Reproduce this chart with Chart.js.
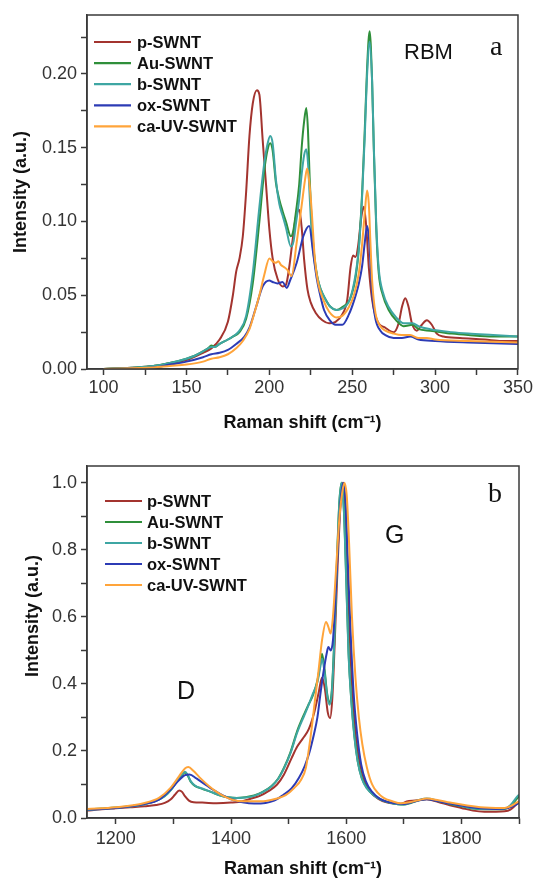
<!DOCTYPE html>
<html>
<head>
<meta charset="utf-8">
<script src="https://cdn.jsdelivr.net/npm/chart.js@4.4.1/dist/chart.umd.min.js"></script>
<style>
html,body{margin:0;padding:0;background:#fff;}
#wrap{position:relative;width:535px;height:880px;overflow:hidden;background:#fff;}
canvas{position:absolute;left:0;}
</style>
</head>
<body>
<div id="wrap">
<canvas id="rbm" width="535" height="440" style="top:0px"></canvas>
<canvas id="gband" width="535" height="440" style="top:440px"></canvas>
</div>
<script>
// ---------- series ----------
const seriesNames = ['p-SWNT', 'Au-SWNT', 'b-SWNT', 'ox-SWNT', 'ca-UV-SWNT'];
const seriesColors = ['#a3342f', '#2f8f3a', '#3ea6a3', '#2c3bb5', '#ffa43a'];

// ---------- panel a : RBM region ----------
const rbmTicksX = [100, 150, 200, 250, 300, 350];
const rbmTicksY = [0.00, 0.05, 0.10, 0.15, 0.20];

const pRbmX = [100,120,130,140,150,160,165,170,175,178,180,182,184,186,188,190,192.5,194,196,198,200,202,205,208,210,212,214,216,218,219.5,221,223,225,228,232,236,240,244,247,249,250.5,252,253.5,255.5,257,258.5,260,262,265,270,275,278,280,282,284,286,289,292,295,298,301,305,315,330,340,350];
const pRbmY = [0,0.001,0.002,0.004,0.006,0.011,0.014,0.020,0.032,0.050,0.066,0.075,0.090,0.120,0.158,0.180,0.189,0.186,0.155,0.125,0.095,0.075,0.061,0.056,0.057,0.069,0.087,0.103,0.108,0.096,0.074,0.054,0.045,0.038,0.033,0.031,0.032,0.037,0.047,0.069,0.077,0.076,0.083,0.103,0.110,0.096,0.069,0.047,0.033,0.028,0.025,0.031,0.042,0.048,0.042,0.031,0.026,0.030,0.033,0.030,0.024,0.022,0.021,0.020,0.019,0.019];

const auRbmX = [100,120,130,140,150,155,160,163,165,167,170,175,178,182,186,190,194,197,199,200.5,202,204,206,208,210,213,214.5,216,218,219.5,221,222.3,223.3,224.3,225.5,227,229,231,234,237,240.5,244,248.5,252,254,256,257.5,259,260.5,262,263,264.5,266,268.5,272,276.5,281,286.5,290,297,310,320,335,350];
const auRbmY = [0,0.001,0.002,0.004,0.007,0.009,0.012,0.014,0.016,0.015,0.017,0.020,0.022,0.025,0.034,0.058,0.100,0.135,0.149,0.153,0.148,0.126,0.115,0.107,0.100,0.090,0.094,0.106,0.125,0.150,0.168,0.177,0.162,0.130,0.100,0.078,0.062,0.054,0.047,0.042,0.040,0.042,0.047,0.062,0.082,0.120,0.160,0.205,0.229,0.195,0.150,0.095,0.065,0.050,0.040,0.033,0.029,0.030,0.027,0.026,0.024,0.023,0.022,0.022];

const bRbmX = auRbmX;
const bRbmY = [0,0.001,0.002,0.004,0.007,0.009,0.012,0.014,0.015,0.015,0.017,0.020,0.022,0.026,0.036,0.065,0.110,0.140,0.153,0.158,0.153,0.128,0.112,0.104,0.096,0.083,0.086,0.098,0.115,0.132,0.145,0.149,0.140,0.118,0.093,0.075,0.062,0.054,0.047,0.042,0.040,0.041,0.047,0.064,0.082,0.118,0.156,0.200,0.222,0.195,0.152,0.098,0.068,0.052,0.042,0.035,0.031,0.031,0.029,0.027,0.025,0.024,0.023,0.022];

const oxRbmX = [100,130,140,150,160,165,170,175,180,185,188,192,196,200,202,205,208,210.5,212.5,216.5,220.5,224,226.5,228.5,230.5,233,236.5,240,244,248,251,254,256,257.5,259,260,261,262,264,267,270,275,280,285,290,300,320,350];
const oxRbmY = [0,0.001,0.003,0.005,0.008,0.010,0.011,0.013,0.017,0.022,0.028,0.042,0.056,0.060,0.059,0.058,0.059,0.055,0.060,0.072,0.090,0.097,0.078,0.062,0.051,0.040,0.033,0.030,0.030,0.037,0.046,0.058,0.070,0.085,0.097,0.090,0.072,0.052,0.034,0.026,0.023,0.021,0.021,0.022,0.020,0.019,0.018,0.017];

const caRbmX = [100,130,140,150,160,165,170,175,180,184,188,191,194,197,200,202,204,205.5,207,209,211,213.4,216.4,219.4,221.5,222.8,224,225.5,227.5,229.5,232.5,236,240.5,244,248,251,254,256,257.5,259,260,261,262,264,267,270,275,280,285,290,295,300,320,350];
const caRbmY = [0,0.001,0.002,0.003,0.005,0.007,0.008,0.010,0.014,0.019,0.027,0.038,0.050,0.064,0.075,0.073,0.072,0.073,0.0705,0.069,0.067,0.063,0.085,0.110,0.128,0.136,0.128,0.108,0.074,0.058,0.047,0.039,0.035,0.036,0.042,0.050,0.065,0.085,0.105,0.121,0.112,0.085,0.060,0.038,0.029,0.026,0.024,0.023,0.023,0.021,0.021,0.020,0.019,0.018];

// ---------- panel b : D and G region ----------
const gTicksX = [1200, 1400, 1600, 1800];
const gTicksY = [0.0, 0.2, 0.4, 0.6, 0.8, 1.0];

const pGX = [1150,1175,1200,1225,1250,1270,1285,1295,1303,1310,1315,1320,1327,1335,1350,1375,1400,1420,1435,1450,1465,1480,1492,1505,1515,1525,1535,1545,1552,1558,1563,1568,1572,1576,1580,1585,1590,1594,1598,1602,1606,1611,1617,1624,1632,1642,1655,1670,1685,1695,1705,1720,1740,1760,1780,1800,1820,1840,1860,1875,1885,1895,1900];
const pGY = [0.022,0.026,0.029,0.032,0.035,0.039,0.045,0.055,0.070,0.082,0.078,0.065,0.052,0.047,0.046,0.044,0.046,0.050,0.058,0.066,0.080,0.100,0.130,0.178,0.213,0.238,0.265,0.318,0.372,0.418,0.385,0.315,0.298,0.360,0.520,0.750,0.930,1.000,0.940,0.760,0.550,0.370,0.240,0.160,0.110,0.078,0.058,0.047,0.043,0.042,0.049,0.052,0.056,0.048,0.038,0.030,0.022,0.019,0.019,0.020,0.025,0.040,0.048];

const auGX = [1150,1175,1200,1225,1250,1270,1285,1297,1307,1315,1320,1325,1330,1338,1350,1365,1380,1395,1410,1425,1440,1455,1470,1482,1492,1503,1515,1527,1535,1542,1550,1555,1558,1562,1567,1571,1575,1579,1584,1588,1592,1596,1600,1604,1609,1614,1620,1627,1636,1647,1660,1675,1690,1700,1712,1725,1740,1760,1780,1800,1820,1840,1860,1875,1885,1895,1900];
const auGY = [0.025,0.028,0.031,0.035,0.042,0.052,0.066,0.087,0.112,0.128,0.136,0.126,0.108,0.095,0.087,0.078,0.068,0.062,0.060,0.062,0.067,0.078,0.095,0.118,0.150,0.195,0.260,0.310,0.340,0.365,0.410,0.460,0.490,0.450,0.370,0.345,0.380,0.520,0.770,0.940,1.000,0.920,0.720,0.500,0.350,0.250,0.170,0.120,0.090,0.070,0.055,0.046,0.041,0.040,0.045,0.052,0.057,0.050,0.042,0.035,0.028,0.026,0.026,0.027,0.035,0.055,0.065];

const bGX = auGX;
const bGY = [0.024,0.027,0.030,0.034,0.041,0.051,0.065,0.086,0.112,0.130,0.138,0.128,0.110,0.096,0.088,0.078,0.068,0.062,0.060,0.061,0.066,0.077,0.094,0.117,0.148,0.192,0.255,0.305,0.338,0.370,0.405,0.450,0.475,0.440,0.365,0.338,0.372,0.510,0.760,0.935,1.000,0.915,0.710,0.490,0.345,0.245,0.168,0.118,0.088,0.069,0.055,0.046,0.041,0.040,0.046,0.053,0.058,0.051,0.043,0.036,0.029,0.027,0.027,0.028,0.038,0.060,0.070];

const oxGX = [1150,1200,1250,1275,1295,1310,1320,1328,1340,1355,1370,1385,1400,1420,1440,1460,1475,1490,1505,1518,1528,1536,1544,1550,1556,1561,1566,1569,1573,1577,1582,1587,1591,1595,1599,1603,1608,1613,1619,1626,1634,1645,1658,1672,1688,1700,1712,1725,1740,1760,1780,1800,1820,1840,1860,1875,1885,1895,1900];
const oxGY = [0.025,0.030,0.042,0.055,0.085,0.113,0.128,0.130,0.118,0.100,0.083,0.068,0.056,0.047,0.043,0.045,0.052,0.068,0.088,0.120,0.155,0.195,0.250,0.300,0.380,0.440,0.490,0.510,0.500,0.530,0.680,0.860,0.960,1.000,0.940,0.760,0.540,0.370,0.250,0.160,0.110,0.078,0.058,0.048,0.043,0.042,0.046,0.052,0.056,0.050,0.043,0.037,0.031,0.028,0.027,0.028,0.032,0.040,0.045];

const caGX = [1150,1200,1250,1275,1295,1310,1320,1326,1335,1345,1360,1375,1390,1405,1420,1440,1460,1480,1495,1510,1522,1530,1538,1545,1552,1558,1565,1569,1573,1577,1582,1588,1593,1597,1601,1605,1610,1616,1622,1628,1636,1645,1655,1665,1680,1695,1710,1725,1740,1760,1780,1800,1820,1840,1860,1875,1885,1895,1900];
const caGY = [0.027,0.032,0.045,0.060,0.090,0.125,0.148,0.152,0.140,0.122,0.098,0.078,0.063,0.053,0.050,0.050,0.051,0.058,0.068,0.090,0.115,0.150,0.240,0.340,0.440,0.530,0.585,0.570,0.550,0.600,0.730,0.890,0.970,1.000,0.960,0.820,0.600,0.420,0.300,0.220,0.150,0.100,0.075,0.060,0.050,0.044,0.047,0.053,0.058,0.053,0.046,0.040,0.035,0.031,0.030,0.030,0.035,0.045,0.050];

// ---------- helpers ----------
const SANS = "'Liberation Sans', Arial, Helvetica, sans-serif";
const SERIF = "'Liberation Serif', 'Times New Roman', serif";
const AXIS = '#3a3a3a';

function pts(xs, ys) { return xs.map((x, i) => ({x: x, y: ys[i]})); }

function makeDatasets(pairs) {
  return pairs.map((p, i) => ({
    label: seriesNames[i],
    data: pts(p[0], p[1]),
    borderColor: seriesColors[i],
    backgroundColor: seriesColors[i],
    borderWidth: 2,
    pointRadius: 0,
    fill: false,
    cubicInterpolationMode: 'monotone',
    order: seriesNames.length - i
  }));
}

function decorPlugin(cfg) {
  return {
    id: 'decor',
    afterDraw(chart) {
      const ctx = chart.ctx, a = chart.chartArea;
      ctx.save();
      // frame
      ctx.strokeStyle = AXIS; ctx.lineWidth = 1.5;
      ctx.strokeRect(a.left, a.top, a.right - a.left, a.bottom - a.top);
      // legend
      ctx.font = 'bold 16.5px ' + SANS;
      ctx.textBaseline = 'middle'; ctx.textAlign = 'left';
      seriesNames.forEach((name, i) => {
        const y = cfg.legY + i * cfg.legStep;
        ctx.strokeStyle = seriesColors[i]; ctx.lineWidth = 2.2;
        ctx.beginPath(); ctx.moveTo(cfg.legX0, y); ctx.lineTo(cfg.legX1, y); ctx.stroke();
        ctx.fillStyle = '#111';
        ctx.fillText(name, cfg.legText, y + 1);
      });
      // labels
      ctx.textBaseline = 'alphabetic';
      cfg.labels.forEach(l => {
        ctx.font = l.font; ctx.fillStyle = '#111';
        ctx.fillText(l.text, l.x, l.y);
      });
      if (cfg.yTitle) {
        ctx.translate(cfg.yTitle.x, cfg.yTitle.y);
        ctx.rotate(-Math.PI / 2);
        ctx.font = 'bold 18px ' + SANS; ctx.fillStyle = '#111';
        ctx.textAlign = 'center'; ctx.textBaseline = 'middle';
        ctx.fillText(cfg.yTitle.text, 0, 0);
      }
      ctx.restore();
    }
  };
}

function axisCommon() {
  return {
    type: 'linear',
    grid: {drawOnChartArea: false, drawTicks: true, tickLength: 6, tickWidth: 1.5, tickColor: AXIS},
    border: {display: true, color: AXIS, width: 1.5}
  };
}

const tickFont = {family: SANS, size: 18};
const titleFont = {family: SANS, size: 18, weight: 'bold'};

// ---------- chart a ----------
new Chart(document.getElementById('rbm'), {
  type: 'line',
  data: {datasets: makeDatasets([[pRbmX, pRbmY], [auRbmX, auRbmY], [bRbmX, bRbmY], [oxRbmX, oxRbmY], [caRbmX, caRbmY]])},
  options: {
    responsive: false, animation: false, devicePixelRatio: 1,
    layout: {padding: {top: 15, right: 16, left: 0, bottom: 0}},
    plugins: {legend: {display: false}, tooltip: {enabled: false}},
    scales: {
      x: Object.assign(axisCommon(), {
        min: 90, max: 350,
        afterFit: s => { s.height = 71; },
        ticks: {stepSize: 25, includeBounds: false, autoSkip: false, maxRotation: 0, padding: 2,
          font: tickFont, color: '#333',
          callback: v => rbmTicksX.includes(v) ? String(v) : ''},
        title: {display: true, text: 'Raman shift (cm\u207B\u00B9)', font: titleFont, color: '#111', padding: {top: 0, bottom: 6}}
      }),
      y: Object.assign(axisCommon(), {
        min: 0, max: 0.24,
        afterFit: s => { s.width = 87; },
        ticks: {stepSize: 0.025, includeBounds: false, autoSkip: false, padding: 4,
          font: tickFont, color: '#333',
          callback: v => rbmTicksY.some(t => Math.abs(t - v) < 1e-6) ? v.toFixed(2) : ''},
        title: {display: true, text: 'Intensity (a.u.)', font: titleFont, color: '#111', padding: {top: 10, bottom: 0}}
      })
    }
  },
  plugins: [decorPlugin({
    legX0: 94, legX1: 131, legText: 137, legY: 42, legStep: 21.1,
    labels: [
      {text: 'RBM', x: 404, y: 59, font: '22px ' + SANS},
      {text: 'a', x: 490, y: 55, font: '28px ' + SERIF}
    ]
  })]
});

// ---------- chart b ----------
new Chart(document.getElementById('gband'), {
  type: 'line',
  data: {datasets: makeDatasets([[pGX, pGY], [auGX, auGY], [bGX, bGY], [oxGX, oxGY], [caGX, caGY]])},
  options: {
    responsive: false, animation: false, devicePixelRatio: 1,
    layout: {padding: {top: 26, right: 16, left: 0, bottom: 0}},
    plugins: {legend: {display: false}, tooltip: {enabled: false}},
    scales: {
      x: Object.assign(axisCommon(), {
        min: 1150, max: 1900,
        afterFit: s => { s.height = 62; },
        ticks: {stepSize: 100, includeBounds: false, autoSkip: false, maxRotation: 0, padding: 4,
          font: tickFont, color: '#333',
          callback: v => gTicksX.includes(v) ? String(v) : ''},
        title: {display: true, text: 'Raman shift (cm\u207B\u00B9)', font: titleFont, color: '#111', padding: {top: 0, bottom: 0}}
      }),
      y: Object.assign(axisCommon(), {
        min: 0, max: 1.05,
        afterFit: s => { s.width = 87; },
        ticks: {stepSize: 0.1, includeBounds: false, autoSkip: false, padding: 4,
          font: tickFont, color: '#333',
          callback: v => gTicksY.some(t => Math.abs(t - v) < 1e-6) ? v.toFixed(1) : ''},
        title: {display: false}
      })
    }
  },
  plugins: [decorPlugin({
    legX0: 105, legX1: 142, legText: 147, legY: 61, legStep: 21,
    labels: [
      {text: 'G', x: 385, y: 103, font: '25px ' + SANS},
      {text: 'D', x: 177, y: 259, font: '25px ' + SANS},
      {text: 'b', x: 488, y: 62, font: '28px ' + SERIF}
    ],
    yTitle: {text: 'Intensity (a.u.)', x: 33, y: 176}
  })]
});
</script>
</body>
</html>
